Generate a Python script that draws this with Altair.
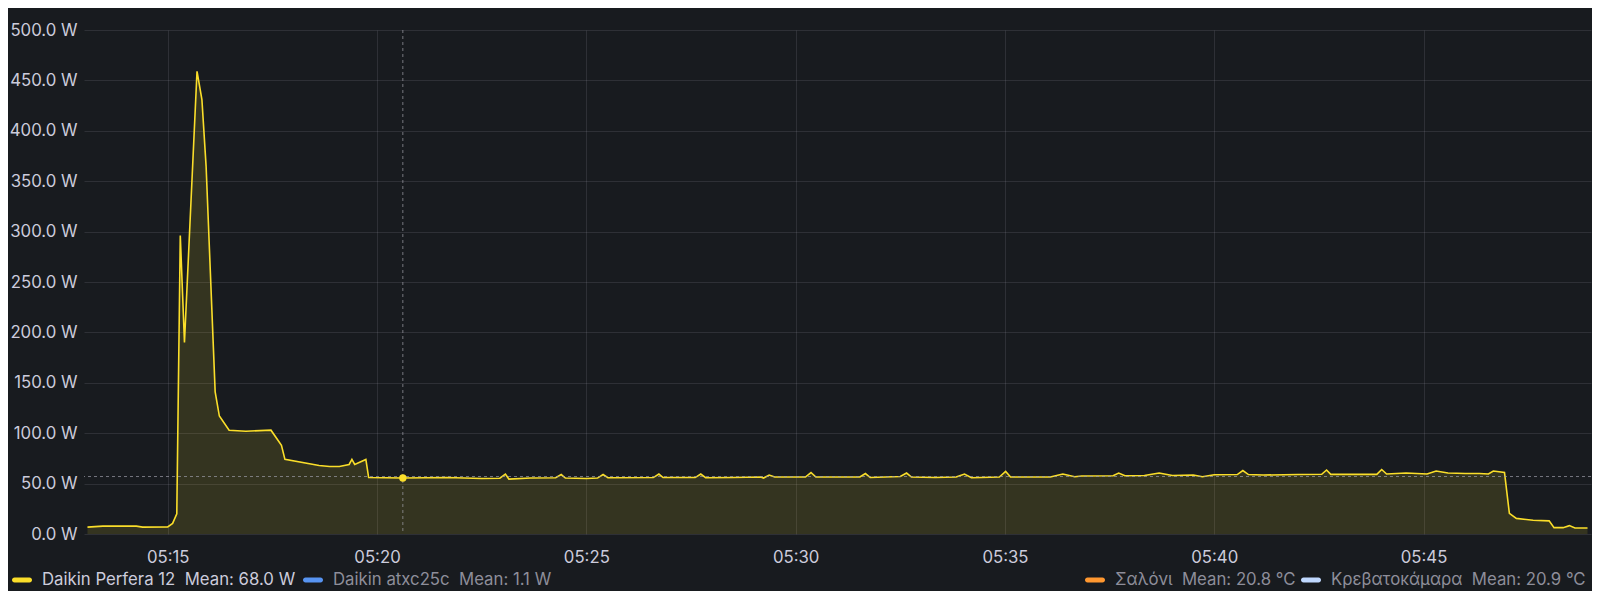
import altair as alt
import pandas as pd

DAY = "2024-01-01"

# ---- power series (Daikin Perfera 12) ----
times = [
    "05:13:05", "05:13:27", "05:14:15", "05:14:24", "05:15:00", "05:15:07", "05:15:13",
    "05:15:18", "05:15:24", "05:15:42", "05:15:49", "05:15:55", "05:16:08", "05:16:14",
    "05:16:28", "05:16:52", "05:17:28", "05:17:43", "05:17:48", "05:18:37", "05:18:52",
    "05:19:06", "05:19:20", "05:19:24", "05:19:28", "05:19:44", "05:19:48", "05:20:37",
    "05:21:40", "05:22:30", "05:22:56", "05:23:04", "05:23:09", "05:23:40", "05:24:16",
    "05:24:24", "05:24:30", "05:25:00", "05:25:16", "05:25:24", "05:25:31", "05:26:36",
    "05:26:44", "05:26:50", "05:27:36", "05:27:44", "05:27:51", "05:28:30", "05:29:10",
    "05:29:14", "05:29:22", "05:29:30", "05:30:14", "05:30:22", "05:30:29", "05:31:32",
    "05:31:40", "05:31:47", "05:32:30", "05:32:39", "05:32:46", "05:33:20", "05:33:50",
    "05:34:02", "05:34:12", "05:34:52", "05:35:01", "05:35:08", "05:36:05", "05:36:23",
    "05:36:40", "05:36:50", "05:37:35", "05:37:43", "05:37:52", "05:38:20", "05:38:41",
    "05:39:00", "05:39:30", "05:39:43", "05:40:00", "05:40:33", "05:40:41", "05:40:49",
    "05:41:10", "05:42:00", "05:42:34", "05:42:41", "05:42:47", "05:43:53", "05:44:00",
    "05:44:07", "05:44:35", "05:45:05", "05:45:18", "05:45:35", "05:46:00", "05:46:20",
    "05:46:33", "05:46:40", "05:46:56", "05:47:03", "05:47:13", "05:47:37", "05:48:00",
    "05:48:07", "05:48:20", "05:48:29", "05:48:37", "05:48:55",
]
watts = [
    6.8, 7.8, 7.8, 6.8, 7.0, 10.5, 20.0,
    296.0, 190.0, 459.0, 431.0, 365.0, 141.0, 117.0,
    103.0, 102.0, 103.0, 88.0, 74.0, 68.0, 67.0,
    67.0, 69.0, 74.0, 69.0, 74.0, 56.0, 55.5,
    56.0, 55.0, 55.3, 59.5, 54.5, 55.5, 55.8,
    59.0, 55.5, 55.0, 55.5, 59.0, 55.8, 56.0,
    59.5, 56.0, 56.0, 59.5, 55.8, 56.0, 56.5,
    55.5, 58.5, 56.5, 56.5, 61.0, 56.5, 56.5,
    60.0, 56.0, 57.0, 60.5, 56.5, 56.0, 56.5,
    59.5, 55.8, 56.5, 62.0, 56.5, 56.5, 59.5,
    56.8, 57.5, 57.8, 60.5, 57.8, 58.0, 60.5,
    58.0, 58.5, 56.8, 58.8, 59.0, 63.0, 59.0,
    58.5, 59.0, 59.2, 63.5, 59.2, 59.2, 64.0,
    59.5, 60.5, 59.5, 62.5, 60.5, 60.0, 60.0,
    59.5, 62.5, 61.0, 20.5, 15.5, 13.6, 13.0,
    6.3, 6.3, 8.3, 6.0, 6.0,
]

# ---- hover crosshair ----
cross_time = "05:20:37"
cross_point_w = 55.5
cross_line_w = 57.0

# ---- legend ----
legend_names = ["Daikin Perfera 12", "Daikin atxc25c", "Σαλόνι", "Κρεβατοκάμαρα"]
legend_means = ["68.0 W", "1.1 W", "20.8 °C", "20.9 °C"]
legend_colors = ["#fade2a", "#5794f2", "#ff9830", "#c0d8ff"]
legend_active = [True, False, False, False]

# ---- axes ----
y_ticks = [0, 50, 100, 150, 200, 250, 300, 350, 400, 450, 500]
x_ticks = ["05:15", "05:20", "05:25", "05:30", "05:35", "05:40", "05:45"]
x_domain = ["05:13:00", "05:49:00"]

BG = "#181b1f"
TEXT = "#ccccdc"
TEXT_DIM = "#8e8e9a"
YELLOW = legend_colors[0]
FONT = "Inter"
FS = 16.75


def iso(hms):
    if hms.count(":") == 1:
        hms = hms + ":00"
    return f"{DAY}T{hms}Z"


def dt(hms):
    parts = [int(p) for p in hms.split(":")]
    while len(parts) < 3:
        parts.append(0)
    return alt.DateTime(year=2024, month=1, date=1, hours=parts[0],
                        minutes=parts[1], seconds=parts[2], utc=True)


df = pd.DataFrame({"t": [iso(t) for t in times], "w": watts})

x_enc = alt.X(
    "t:T",
    scale=alt.Scale(type="utc", domain=[dt(x_domain[0]), dt(x_domain[1])]),
    axis=alt.Axis(
        title=None, values=[dt(v) for v in x_ticks], format="%H:%M", formatType="utc",
        domain=False, ticks=False, labelPadding=15, labelFont=FONT, labelFontSize=FS,
        labelColor=TEXT, grid=True, gridColor=TEXT, gridOpacity=0.12, labelFlush=False,
    ),
)
y_enc = alt.Y(
    "w:Q",
    scale=alt.Scale(domain=[0, 500], nice=False),
    axis=alt.Axis(
        title=None, values=y_ticks, labelExpr="format(datum.value, '.1f') + ' W'",
        domain=False, ticks=False, labelPadding=7, labelFont=FONT, labelFontSize=FS,
        labelColor=TEXT, grid=True, gridColor=TEXT, gridOpacity=0.12,
    ),
)

base = alt.Chart(df)
area = base.mark_area(color=YELLOW, opacity=0.13, interpolate="linear").encode(x=x_enc, y=y_enc)
line = base.mark_line(color=YELLOW, strokeWidth=1.6, interpolate="linear").encode(x="t:T", y="w:Q")

cross_df = pd.DataFrame({"t": [iso(cross_time)], "w": [cross_point_w], "h": [cross_line_w]})
vrule = alt.Chart(cross_df).mark_rule(color="#a0a0aa", opacity=0.7, strokeDash=[3, 3], strokeWidth=1).encode(x="t:T")
hrule = alt.Chart(cross_df).mark_rule(color="#a0a0aa", opacity=0.7, strokeDash=[3, 3], strokeWidth=1).encode(y="h:Q")
dot = alt.Chart(cross_df).mark_circle(color=YELLOW, size=55, opacity=1).encode(x="t:T", y="w:Q")

PILL = "M-0.75,-0.25 L0.75,-0.25 A0.25,0.25 0 0 1 0.75,0.25 L-0.75,0.25 A0.25,0.25 0 0 1 -0.75,-0.25 Z"
legend_x = [-72, 219, 1001, 1217]
legend_layers = []
for name, mean, col, active, lx in zip(legend_names, legend_means, legend_colors, legend_active, legend_x):
    lay = alt.Chart(pd.DataFrame({"series": [name]})).mark_point(filled=True, opacity=0).encode(
        color=alt.Color(
            "series:N",
            scale=alt.Scale(domain=[name], range=[col]),
            legend=alt.Legend(
                title=None, orient="none", legendX=lx, legendY=540, padding=0,
                symbolType=PILL, symbolSize=400, symbolOpacity=1, symbolStrokeWidth=0,
                labelColor=TEXT if active else TEXT_DIM, labelFont=FONT, labelFontSize=FS,
                labelOffset=10, labelLimit=0,
                labelExpr=f"datum.label + '\u00a0\u00a0Mean: {mean}'",
            ),
        )
    )
    legend_layers.append(lay)

chart = alt.layer(area, line, hrule, vrule, dot, *legend_layers).resolve_scale(
    color="independent"
).resolve_legend(color="independent").properties(
    width=1507, height=504,
    autosize=alt.AutoSizeParams(type="none"),
    padding={"left": 76, "top": 22, "right": 1, "bottom": 57},
).configure(background=BG, font=FONT).configure_view(stroke=None)

chart.save("out.html", embed_options={"renderer": "svg", "actions": False})
